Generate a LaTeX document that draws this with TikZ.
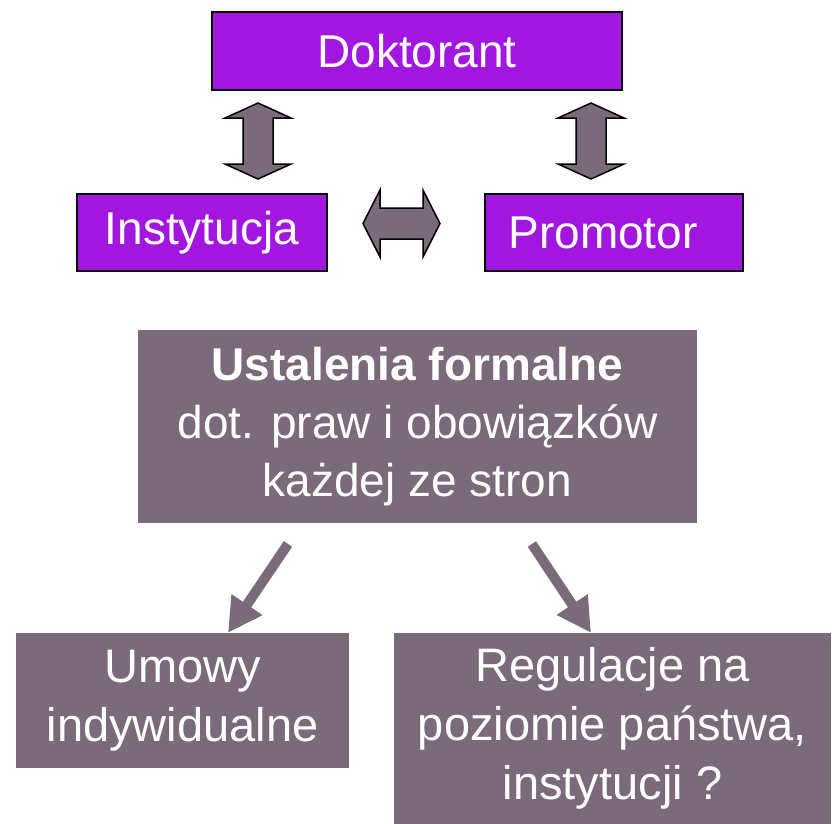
\documentclass[tikz,border=0pt]{standalone}
\usepackage{fontspec}
\setmainfont{Liberation Sans}
\usetikzlibrary{arrows.meta,positioning,calc}

\definecolor{partyviolet}{RGB}{161,23,224}
\definecolor{topicgrey}{RGB}{122,106,122}

\tikzset{
  party/.style={draw=black, line width=1.5pt, fill=partyviolet, text=white, inner sep=0pt,
    font=\fontsize{46}{58}\selectfont},
  topic/.style={fill=topicgrey, text=white, inner sep=0pt, align=center,
    font=\fontsize{47}{59}\selectfont},
  blockarrow/.style={draw=black, line width=1.5pt, fill=topicgrey, line join=miter},
  slantarrow/.style={draw=topicgrey, line width=10pt, -{Triangle[length=34pt,width=35pt]}, shorten <=25pt}
}

% double block arrows: vertical (centre x, top y, bottom y), horizontal (left x, right x, centre y)
\newcommand{\vblock}[3]{%
  \draw[blockarrow] (#1,#2) -- ++(33,15) -- ++(-18,0) -- (#1+15,#3-15) -- ++(18,0) -- (#1,#3)
    -- ++(-33,-15) -- ++(18,0) -- (#1-15,#2+15) -- ++(-18,0) -- cycle;}
\newcommand{\hblock}[3]{%
  \draw[blockarrow] (#1,#3) -- ++(17,-33.5) -- ++(0,18) -- (#2-17,#3-15.5) -- ++(0,-18) -- (#2,#3)
    -- ++(-17,33.5) -- ++(0,-18) -- (#1+17,#3+15.5) -- ++(0,18) -- cycle;}

\begin{document}
\begin{tikzpicture}[x=1pt, y=-1pt]
\useasboundingbox (0,0) rectangle (832,823);

\node[party, minimum width=410pt, minimum height=78pt] (dok) at (417,51) {Doktorant};
\node[party, minimum width=250pt, minimum height=77pt] (inst) at (202,232.5) {Instytucja};
\node[party, minimum width=258pt, minimum height=77pt] (prom) at (614,232.5) {Promotor\hspace*{22pt}};

\vblock{258}{103}{179}
\vblock{591}{103}{179}
\hblock{363}{440}{223.5}

\node[topic, minimum width=559pt, minimum height=193pt, font=\fontsize{46}{58}\selectfont] (ust) at (417.5,426.5)
  {\textbf{Ustalenia formalne}\\dot. praw i obowiązków\\każdej ze stron};

\node[topic, minimum width=333pt, minimum height=135pt] (umowy) at (182.5,700.5) {Umowy\\indywidualne};
\node[topic, minimum width=437pt, minimum height=191pt] (regul) at (612.5,728.5)
  {Regulacje na\\poziomie państwa,\\instytucji ?};

\draw[slantarrow] ($(ust.south)+(-115.5,0)$) -- ($(umowy.north)+(45.5,0)$);
\draw[slantarrow] ($(ust.south)+(100.5,0)$) -- ($(regul.north)+(-21.5,0)$);
\end{tikzpicture}
\end{document}
